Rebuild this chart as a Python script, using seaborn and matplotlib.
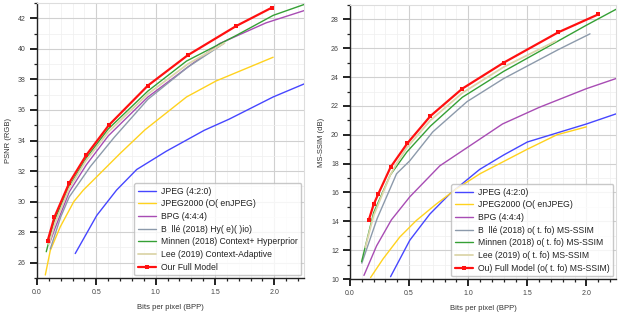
import numpy as np
import pandas as pd
import matplotlib
matplotlib.use("Agg")
import matplotlib.pyplot as plt
from matplotlib.ticker import MultipleLocator, FormatStrFormatter
import seaborn as sns

# ---------------- data: PSNR panel ----------------
psnr_jpeg_x = [0.322, 0.504, 0.67, 0.84, 1.09, 1.41, 1.62, 1.99, 2.25]
psnr_jpeg_y = [26.6, 29.1, 30.75, 32.1, 33.3, 34.67, 35.4, 36.85, 37.7]
psnr_j2k_x = [0.07, 0.112, 0.196, 0.31, 0.39, 0.5, 0.7, 0.91, 1.26, 1.51, 1.99]
psnr_j2k_y = [25.2, 26.8, 28.35, 30.0, 30.75, 31.6, 33.15, 34.7, 36.85, 37.9, 39.45]
psnr_bpg_x = [0.106, 0.146, 0.272, 0.415, 0.6, 0.935, 1.27, 1.54, 1.93, 2.25]
psnr_bpg_y = [27.27, 28.14, 30.64, 32.4, 34.3, 36.85, 38.8, 40.35, 41.7, 42.5]
psnr_balle_x = [0.112, 0.2, 0.272, 0.45, 0.65, 0.935, 1.27, 1.58]
psnr_balle_y = [26.9, 29.0, 30.31, 32.3, 34.2, 36.7, 38.8, 40.38]
psnr_minnen_x = [0.078, 0.146, 0.272, 0.415, 0.6, 0.935, 1.26, 1.68, 1.99, 2.25]
psnr_minnen_y = [26.72, 28.75, 31.0, 32.85, 34.75, 37.24, 39.2, 40.88, 42.19, 42.9]
psnr_lee_x = [0.1, 0.15, 0.27, 0.41, 0.6, 0.935, 1.27, 1.58]
psnr_lee_y = [27.2, 28.55, 30.85, 32.65, 34.55, 37.05, 39.0, 40.38]
psnr_ours_x = [0.09, 0.146, 0.272, 0.415, 0.605, 0.935, 1.27, 1.68, 1.98]
psnr_ours_y = [27.44, 28.97, 31.23, 33.04, 35.0, 37.6, 39.58, 41.5, 42.7]

# ---------------- data: MS-SSIM panel ----------------
ms_jpeg_x = [0.343, 0.506, 0.675, 0.844, 1.097, 1.3, 1.5, 2.0, 2.25]
ms_jpeg_y = [10.16, 12.69, 14.5, 15.9, 17.6, 18.6, 19.5, 20.75, 21.45]
ms_j2k_x = [0.174, 0.28, 0.42, 0.56, 0.73, 0.9, 1.1, 1.5, 1.75, 2.0]
ms_j2k_y = [10.1, 11.4, 12.9, 14.05, 15.2, 16.25, 17.3, 19.0, 20.0, 20.55]
ms_bpg_x = [0.118, 0.225, 0.35, 0.506, 0.76, 1.08, 1.29, 1.6, 2.0, 2.25]
ms_bpg_y = [10.25, 12.3, 14.1, 15.7, 17.85, 19.6, 20.75, 21.9, 23.2, 23.9]
ms_balle_x = [0.1, 0.23, 0.394, 0.506, 0.7, 0.99, 1.3, 1.76, 2.03]
ms_balle_y = [11.1, 14.2, 17.3, 18.2, 20.2, 22.3, 23.9, 25.9, 27.0]
ms_minnen_x = [0.098, 0.2, 0.34, 0.48, 0.68, 0.95, 1.3, 1.76, 2.0, 2.25]
ms_minnen_y = [11.2, 14.6, 17.2, 18.8, 20.6, 22.6, 24.4, 26.5, 27.6, 28.7]
ms_lee_x = [0.13, 0.2, 0.34, 0.394, 0.48, 0.68, 0.95, 1.3, 1.74]
ms_lee_y = [12.2, 14.4, 17.2, 18.0, 19.1, 21.0, 22.9, 24.7, 26.5]
ms_ours_x = [0.16, 0.2, 0.24, 0.343, 0.484, 0.68, 0.95, 1.3, 1.76, 2.1]
ms_ours_y = [14.12, 15.17, 15.91, 17.75, 19.4, 21.3, 23.2, 25.0, 27.1, 28.35]

psnr_labels = ["JPEG (4:2:0)", "JPEG2000 (O( enJPEG)", "BPG (4:4:4)",
               "B  llé (2018) Hy( e)( )io)", "Minnen (2018) Context+ Hyperprior",
               "Lee (2019) Context-Adaptive", "Our Full Model"]
ms_labels = ["JPEG (4:2:0)", "JPEG2000 (O( enJPEG)", "BPG (4:4:4)",
             "B  llé (2018) o( t. fo) MS-SSIM", "Minnen (2018) o( t. fo) MS-SSIM",
             "Lee (2019) o( t. fo) MS-SSIM", "Ou) Full Model (o( t. fo) MS-SSIM)"]

colors = ["#4646ff", "#ffd21e", "#a84cb4", "#8c9aab", "#35a035", "#dcd6aa", "#ff1010"]
widths = [1.0, 1.0, 1.0, 1.0, 1.0, 1.3, 1.6]

sns.set_theme(style="whitegrid")
plt.rcParams["font.family"] = ["Liberation Sans", "DejaVu Sans"]

fig = plt.figure(figsize=(6.22, 3.17), dpi=100)
ax1 = fig.add_axes([37 / 622, 1 - 278 / 317, 267 / 622, 275 / 317])
ax2 = fig.add_axes([350 / 622, 1 - 279 / 317, 266 / 622, 274 / 317])

panels = [
    (ax1, [(psnr_jpeg_x, psnr_jpeg_y), (psnr_j2k_x, psnr_j2k_y), (psnr_bpg_x, psnr_bpg_y),
           (psnr_balle_x, psnr_balle_y), (psnr_minnen_x, psnr_minnen_y),
           (psnr_lee_x, psnr_lee_y), (psnr_ours_x, psnr_ours_y)],
     psnr_labels, "PSNR (RGB)", (25, 43)),
    (ax2, [(ms_jpeg_x, ms_jpeg_y), (ms_j2k_x, ms_j2k_y), (ms_bpg_x, ms_bpg_y),
           (ms_balle_x, ms_balle_y), (ms_minnen_x, ms_minnen_y),
           (ms_lee_x, ms_lee_y), (ms_ours_x, ms_ours_y)],
     ms_labels, "MS-SSIM (dB)", (10, 29)),
]

for ax, series, labels, ylab, ylim in panels:
    for i, ((xs, ys), lab) in enumerate(zip(series, labels)):
        df = pd.DataFrame({"x": xs, "y": ys})
        is_ours = i == len(series) - 1
        sns.lineplot(data=df, x="x", y="y", ax=ax, color=colors[i], lw=widths[i],
                     label=lab, sort=False,
                     marker="s" if is_ours else None, markersize=3.2,
                     markeredgewidth=0, zorder=3 + i)
    ax.set_xlim(0, 2.25)
    ax.set_ylim(*ylim)
    ax.xaxis.set_major_locator(MultipleLocator(0.5))
    ax.xaxis.set_minor_locator(MultipleLocator(0.1))
    ax.yaxis.set_major_locator(MultipleLocator(2))
    ax.yaxis.set_minor_locator(MultipleLocator(1))
    ax.xaxis.set_major_formatter(FormatStrFormatter("%.1f"))
    ax.grid(which="major", color="#d0d0d0", lw=0.8)
    ax.grid(which="minor", color="#efefef", lw=0.5)
    ax.set_axisbelow(True)
    ax.tick_params(which="major", direction="out", length=5, width=1.4, color="#222222",
                   labelsize=5, labelcolor="#444444", pad=3, bottom=True, left=True)
    ax.tick_params(which="minor", direction="out", length=2.5, width=0.9, color="#222222",
                   bottom=True, left=True)
    ax.set_xlabel("Bits per pixel (BPP)", fontsize=5.5, color="#333333", labelpad=6)
    ax.set_ylabel(ylab, fontsize=5.5, color="#333333", labelpad=4)
    for s in ["left", "bottom"]:
        ax.spines[s].set_color("#222222")
        ax.spines[s].set_linewidth(1.0)
    for s in ["top", "right"]:
        ax.spines[s].set_color("#dddddd")
        ax.spines[s].set_linewidth(0.8)
    leg = ax.legend(loc="lower right", fontsize=6.2, frameon=True, fancybox=True,
                    borderaxespad=0.3, labelspacing=0.42, handlelength=2.1,
                    handletextpad=0.55, borderpad=0.45)
    leg.get_frame().set_edgecolor("#bbbbbb")
    leg.get_frame().set_linewidth(1.0)
    for t in leg.get_texts():
        t.set_color("#222222")

fig.savefig("out.png", dpi=100)
